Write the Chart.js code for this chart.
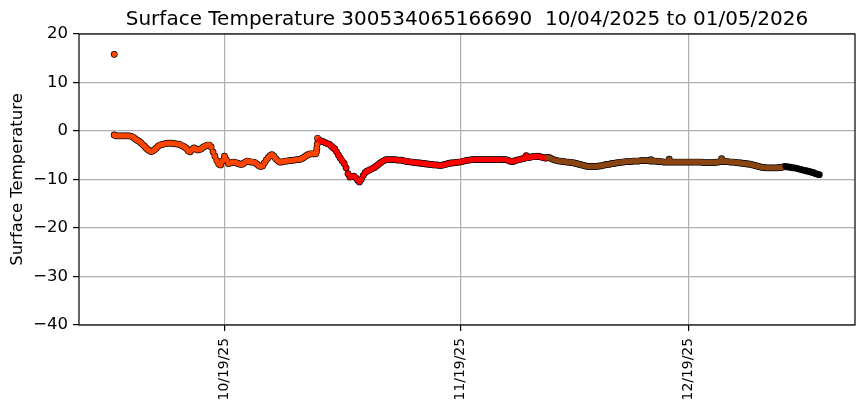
<!DOCTYPE html>
<html>
<head>
<meta charset="utf-8">
<script src="https://cdn.jsdelivr.net/npm/chart.js@4/dist/chart.umd.min.js"></script>
<style>
  html, body { margin: 0; padding: 0; background: #ffffff; }
  canvas { display: block; }
</style>
</head>
<body>
<canvas id="tempChart" width="863" height="408"></canvas>
<script>
// Days are counted from 10/04/2025 00:00
const tickDays = [15, 46, 76];
const tickLabels = ['10/19/25', '11/19/25', '12/19/25'];

// Orange segment, one reading every 6 hours from day 0.5
const orangeStart = 0.5;
const orangeStep = 0.25;
const orangeTemps = [
    -0.8, -1.0, -1.0, -1.0, -1.0, -1.0, -1.0, -1.0, -1.0, -1.1,
    -1.3, -1.6, -1.9, -2.1, -2.4, -2.8, -3.2, -3.6, -3.9, -4.2,
    -4.2, -3.9, -3.6, -3.2, -2.9, -2.8, -2.7, -2.6, -2.5, -2.5,
    -2.5, -2.6, -2.6, -2.7, -2.7, -2.9, -3.1, -3.3, -3.6, -4.1,
    -4.3, -3.8, -3.5, -3.7, -3.9, -3.8, -3.6, -3.3, -3.1, -2.9,
    -2.9, -3.3, -4.3, -5.2, -6.1, -6.8, -7.0, -6.2, -5.2, -5.9,
    -6.7, -6.6, -6.5, -6.4, -6.5, -6.7, -6.8, -6.9, -6.7, -6.4,
    -6.2, -6.3, -6.4, -6.4, -6.5, -6.8, -7.1, -7.3, -7.2, -6.6,
    -6.0, -5.5, -5.1, -4.9, -5.2, -5.7, -6.1, -6.4, -6.4, -6.3,
    -6.2, -6.2, -6.1, -6.1, -6.0, -6.0, -5.9, -5.9, -5.8, -5.6,
    -5.4, -5.1, -4.9, -4.7, -4.7, -4.7, -4.7
];
// lone readings outside the regular run (start spike, jump on 10/31)
const orangeExtraDays = [0.5, 27.1, 27.15, 27.2, 27.25];
const orangeExtraTemps = [15.8, -4.3, -3.6, -2.7, -1.5];

// Red segment
const redStart = 27.5;
const redStep = 0.25;
const redTemps = [
    -1.9, -2.1, -2.2, -2.4, -2.6, -2.7, -3.0, -3.4, -3.7, -4.3,
    -5.0, -5.6, -6.2, -6.7, -7.6, -8.8, -9.5, -9.4, -9.3, -9.6,
    -10.1, -10.5, -10.0, -9.2, -8.6, -8.3, -8.1, -7.9, -7.7, -7.5,
    -7.2, -6.9, -6.6, -6.3, -6.1, -5.9, -5.9, -5.9, -5.9, -5.9,
    -5.9, -6.0, -6.0, -6.0, -6.1, -6.2, -6.3, -6.3, -6.4, -6.4,
    -6.5, -6.5, -6.6, -6.6, -6.7, -6.7, -6.8, -6.8, -6.9, -6.9,
    -7.0, -7.0, -7.0, -7.1, -7.1, -7.0, -6.9, -6.8, -6.7, -6.6,
    -6.6, -6.5, -6.5, -6.4, -6.4, -6.3, -6.2, -6.1, -6.0, -6.0,
    -5.9, -5.9, -5.9, -5.9, -5.9, -5.9, -5.9, -5.9, -5.9, -5.9,
    -5.9, -5.9, -5.9, -5.9, -5.9, -5.9, -5.9, -5.9, -5.9, -6.0,
    -6.2, -6.3, -6.3, -6.1, -6.0, -5.9, -5.8, -5.7, -5.6, -5.5,
    -5.5, -5.4, -5.3, -5.3, -5.3, -5.2, -5.3, -5.4, -5.5, -5.6
];
const redExtraDays = [54.7];
const redExtraTemps = [-5.1];

// Brown segment
const brownStart = 57.5;
const brownStep = 0.25;
const brownTemps = [
    -5.4, -5.5, -5.7, -5.9, -6.0, -6.1, -6.2, -6.2, -6.3, -6.3,
    -6.4, -6.4, -6.5, -6.5, -6.6, -6.7, -6.8, -6.9, -7.0, -7.1,
    -7.2, -7.3, -7.3, -7.3, -7.3, -7.3, -7.3, -7.2, -7.2, -7.1,
    -7.0, -6.9, -6.9, -6.8, -6.7, -6.7, -6.6, -6.5, -6.5, -6.4,
    -6.4, -6.3, -6.3, -6.3, -6.3, -6.2, -6.2, -6.2, -6.2, -6.1,
    -6.1, -6.1, -6.1, -6.1, -6.2, -6.2, -6.2, -6.2, -6.3, -6.3,
    -6.3, -6.4,
    -6.4, -6.4, -6.4, -6.4, -6.4, -6.4, -6.4, -6.4, -6.4, -6.4,
    -6.4, -6.4, -6.4, -6.4, -6.4, -6.4, -6.4, -6.4, -6.4, -6.4,
    -6.5, -6.5, -6.5, -6.5, -6.5, -6.5, -6.5, -6.4, -6.4, -6.3,
    -6.3, -6.3, -6.3, -6.3, -6.4, -6.4, -6.4, -6.5, -6.5, -6.6,
    -6.6, -6.7, -6.7, -6.8, -6.8, -6.9, -7.0, -7.1, -7.2, -7.3,
    -7.4, -7.5, -7.5, -7.6, -7.6, -7.6, -7.6, -7.6, -7.6, -7.6,
    -7.5, -7.5, -7.4
];
const brownExtraDays = [71.1, 73.5, 80.4];
const brownExtraTemps = [-5.9, -5.8, -5.7];

// Black segment (most recent)
const blackStart = 88.75;
const blackStep = 0.25;
const blackTemps = [
    -7.3, -7.4, -7.4, -7.5, -7.6, -7.6, -7.7, -7.8, -7.9, -8.0,
    -8.1, -8.2, -8.3, -8.4, -8.5, -8.6, -8.8, -8.9, -9.0
];

// Build {x, y} points for one segment
function toPoints(start, step, temps, extraDays, extraTemps) {
    const pts = temps.map((t, i) => ({ x: start + i * step, y: t }));
    (extraDays || []).forEach((d, i) => pts.push({ x: d, y: extraTemps[i] }));
    return pts;
}

// coloured markers, no edge
function segment(points, color, order) {
    return {
        data: points,
        order: order,
        showLine: false,
        pointRadius: 2.7,
        pointBorderWidth: 0,
        pointBackgroundColor: color,
        borderColor: color,
        backgroundColor: color
    };
}

// slightly bigger black markers underneath give the dark outline
function outline(points) {
    return {
        data: points,
        order: 10,
        showLine: false,
        pointRadius: 3.4,
        pointBorderWidth: 0,
        pointBackgroundColor: '#000000',
        borderColor: '#000000',
        backgroundColor: '#000000'
    };
}

const orangePts = toPoints(orangeStart, orangeStep, orangeTemps, orangeExtraDays, orangeExtraTemps);
const redPts = toPoints(redStart, redStep, redTemps, redExtraDays, redExtraTemps);
const brownPts = toPoints(brownStart, brownStep, brownTemps, brownExtraDays, brownExtraTemps);
const blackPts = toPoints(blackStart, blackStep, blackTemps);

// Axes frame on all four sides, like the original
const framePlugin = {
    id: 'frame',
    afterDraw(chart) {
        const { ctx, chartArea } = chart;
        ctx.save();
        ctx.strokeStyle = '#000000';
        ctx.lineWidth = 1.2;
        ctx.strokeRect(chartArea.left, chartArea.top,
            chartArea.right - chartArea.left, chartArea.bottom - chartArea.top);
        ctx.restore();
    }
};

Chart.defaults.font.family = '"DejaVu Sans", sans-serif';
Chart.defaults.color = '#000000';

const ctx = document.getElementById('tempChart').getContext('2d');
new Chart(ctx, {
    type: 'scatter',
    data: {
        datasets: [
            outline(orangePts),
            outline(redPts),
            outline(brownPts),
            outline(blackPts),
            segment(orangePts, '#ff4500', 4),
            segment(redPts, '#ff0000', 3),
            segment(brownPts, '#8b4513', 2),
            segment(blackPts, '#000000', 1)
        ]
    },
    options: {
        responsive: false,
        animation: false,
        devicePixelRatio: 1,
        layout: { padding: { left: 0, right: 8, top: 0, bottom: 0 } },
        plugins: {
            legend: { display: false },
            tooltip: { enabled: false },
            title: {
                display: true,
                fullSize: false,
                text: 'Surface Temperature 300534065166690  10/04/2025 to 01/05/2026',
                color: '#000000',
                font: { size: 20, weight: 'normal' },
                padding: { top: 8, bottom: 2 }
            }
        },
        scales: {
            x: {
                type: 'linear',
                min: -4.13,
                max: 97.94,
                afterFit: (scale) => { scale.height = 83; },
                afterBuildTicks: (scale) => {
                    scale.ticks = tickDays.map(v => ({ value: v }));
                },
                ticks: {
                    autoSkip: false,
                    minRotation: 90,
                    maxRotation: 90,
                    padding: 7,
                    color: '#000000',
                    font: { size: 13.9 },
                    callback: (value) => tickLabels[tickDays.indexOf(value)]
                },
                grid: { color: '#b0b0b0', lineWidth: 1.2, tickLength: 6, tickColor: '#000000' },
                border: { display: false }
            },
            y: {
                min: -40,
                max: 20,
                afterFit: (scale) => { scale.width = 79; },
                ticks: {
                    stepSize: 10,
                    padding: 5,
                    color: '#000000',
                    font: { size: 16.5 },
                    callback: (value) => String(value).replace('-', '\u2212')
                },
                grid: { color: '#b0b0b0', lineWidth: 1.2, tickLength: 6, tickColor: '#000000' },
                border: { display: false },
                title: {
                    display: true,
                    text: 'Surface Temperature',
                    color: '#000000',
                    font: { size: 16.5 },
                    padding: { top: 8, bottom: 0 }
                }
            }
        }
    },
    plugins: [framePlugin]
});
</script>
</body>
</html>
